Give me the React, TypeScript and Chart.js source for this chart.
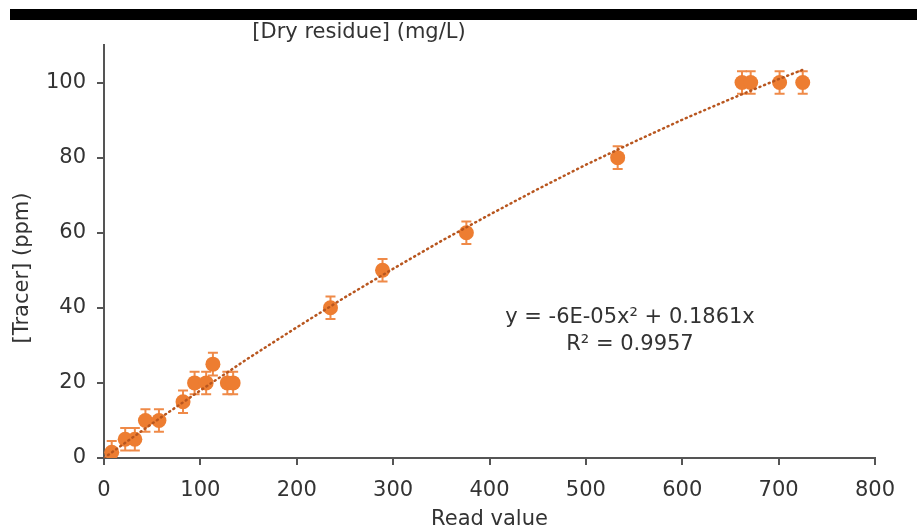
import React, { useEffect, useRef } from "react";
import { Chart, registerables } from "chart.js";

Chart.register(...registerables);

// ---- data ----
const readValues = [8, 22, 32, 43, 57, 82, 94, 106, 113, 128, 134, 235, 289, 376, 533, 662, 671, 701, 725];
const tracerPpm = [1.5, 5, 5, 10, 10, 15, 20, 20, 25, 20, 20, 40, 50, 60, 80, 100, 100, 100, 100];
const tracerErr = [3, 3, 3, 3, 3, 3, 3, 3, 3, 3, 3, 3, 3, 3, 3, 3, 3, 3, 3];

// polynomial trend line, as drawn in the reference
const trendX = [0, 50, 100, 150, 200, 250, 300, 350, 400, 450, 500, 550, 600, 650, 700, 725];
const trendY = [0, 9.2, 18.0, 26.6, 34.8, 42.8, 50.4, 57.8, 64.8, 71.6, 78.1, 84.2, 90.1, 95.6, 100.9, 103.4];

const xTicks = [0, 100, 200, 300, 400, 500, 600, 700, 800];
const yTicks = [0, 20, 40, 60, 80, 100];

const chartTitle = "[Dry residue] (mg/L)";
const xTitle = "Read value";
const yTitle = "[Tracer] (ppm)";
const equationLines = ["y = -6E-05x\u00B2 + 0.1861x", "R\u00B2 = 0.9957"];

const FONT = "'DejaVu Sans', sans-serif";
const TEXT = "#333333";
const AXIS = "#555555";
const ORANGE = "#ED7D31";

const errorBars = {
  id: "errorBars",
  beforeDatasetsDraw(chart: any) {
    const { ctx, chartArea, scales } = chart;
    const x = scales.x;
    const y = scales.y;
    ctx.save();
    ctx.beginPath();
    ctx.rect(chartArea.left, chartArea.top - 20, chartArea.right - chartArea.left, chartArea.bottom - chartArea.top + 20);
    ctx.clip();
    ctx.strokeStyle = "#EF8A48";
    ctx.lineWidth = 2;
    readValues.forEach((v, i) => {
      const px = x.getPixelForValue(v);
      const top = y.getPixelForValue(tracerPpm[i] + tracerErr[i]);
      const bot = y.getPixelForValue(tracerPpm[i] - tracerErr[i]);
      ctx.beginPath();
      ctx.moveTo(px, top);
      ctx.lineTo(px, bot);
      ctx.moveTo(px - 5, top);
      ctx.lineTo(px + 5, top);
      ctx.moveTo(px - 5, bot);
      ctx.lineTo(px + 5, bot);
      ctx.stroke();
    });
    ctx.restore();
  },
};

const texts = {
  id: "texts",
  afterDraw(chart: any) {
    const { ctx } = chart;
    ctx.save();
    ctx.fillStyle = TEXT;
    ctx.textAlign = "center";
    ctx.textBaseline = "middle";
    ctx.font = `21px ${FONT}`;
    ctx.fillText(chartTitle, 359, 33);
    ctx.fillText(equationLines[0], 630, 318);
    ctx.fillText(equationLines[1], 630, 345);
    ctx.translate(23, 268);
    ctx.rotate(-Math.PI / 2);
    ctx.fillText(yTitle, 0, 0);
    ctx.restore();
  },
};

export default function App() {
  const ref = useRef<HTMLCanvasElement | null>(null);

  useEffect(() => {
    if (!ref.current) return;
    const chart = new Chart(ref.current, {
      type: "scatter",
      data: {
        datasets: [
          {
            type: "line",
            label: "Trend",
            data: trendX.map((v, i) => ({ x: v, y: trendY[i] })),
            borderColor: "#B8561F",
            borderWidth: 2.5,
            borderDash: [1, 4],
            borderCapStyle: "round",
            pointRadius: 0,
            fill: false,
            tension: 0,
            order: 0,
          } as any,
          {
            label: "Tracer",
            data: readValues.map((v, i) => ({ x: v, y: tracerPpm[i] })),
            backgroundColor: ORANGE,
            borderColor: ORANGE,
            borderWidth: 0,
            pointRadius: 7.5,
            order: 1,
          },
        ],
      },
      options: {
        responsive: false,
        animation: false,
        devicePixelRatio: 1,
        layout: { padding: { top: 45, right: 42, left: 0, bottom: 0 } },
        plugins: {
          legend: { display: false },
          tooltip: { enabled: false },
          title: { display: false },
        },
        scales: {
          x: {
            type: "linear",
            min: 0,
            max: 800,
            afterBuildTicks: (s: any) => {
              s.ticks = xTicks.map((value) => ({ value }));
            },
            afterFit: (s: any) => {
              s.height = 73;
            },
            ticks: { font: { family: FONT, size: 21 }, color: TEXT, padding: 13, maxRotation: 0 },
            grid: { drawOnChartArea: false, drawTicks: true, tickLength: 7, color: AXIS, lineWidth: 2 },
            border: { display: true, color: AXIS, width: 2 },
            title: { display: true, text: xTitle, font: { family: FONT, size: 21 }, color: TEXT, padding: { top: 0, bottom: -1 } },
          },
          y: {
            type: "linear",
            min: 0,
            max: 110,
            afterBuildTicks: (s: any) => {
              s.ticks = yTicks.map((value) => ({ value }));
            },
            afterFit: (s: any) => {
              s.width = 104;
            },
            ticks: { font: { family: FONT, size: 21 }, color: TEXT, padding: 11 },
            grid: { drawOnChartArea: false, drawTicks: true, tickLength: 7, color: AXIS, lineWidth: 2 },
            border: { display: true, color: AXIS, width: 2 },
          },
        },
      },
      plugins: [errorBars, texts],
    });
    return () => chart.destroy();
  }, []);

  return (
    <div style={{ position: "absolute", left: 0, top: 0, width: 917, height: 531, background: "#fff" }}>
      <canvas ref={ref} width={917} height={531} style={{ position: "absolute", left: 0, top: 0 }} />
      <div style={{ position: "absolute", left: 10, top: 9, width: 907, height: 11, background: "#000" }} />
    </div>
  );
}
